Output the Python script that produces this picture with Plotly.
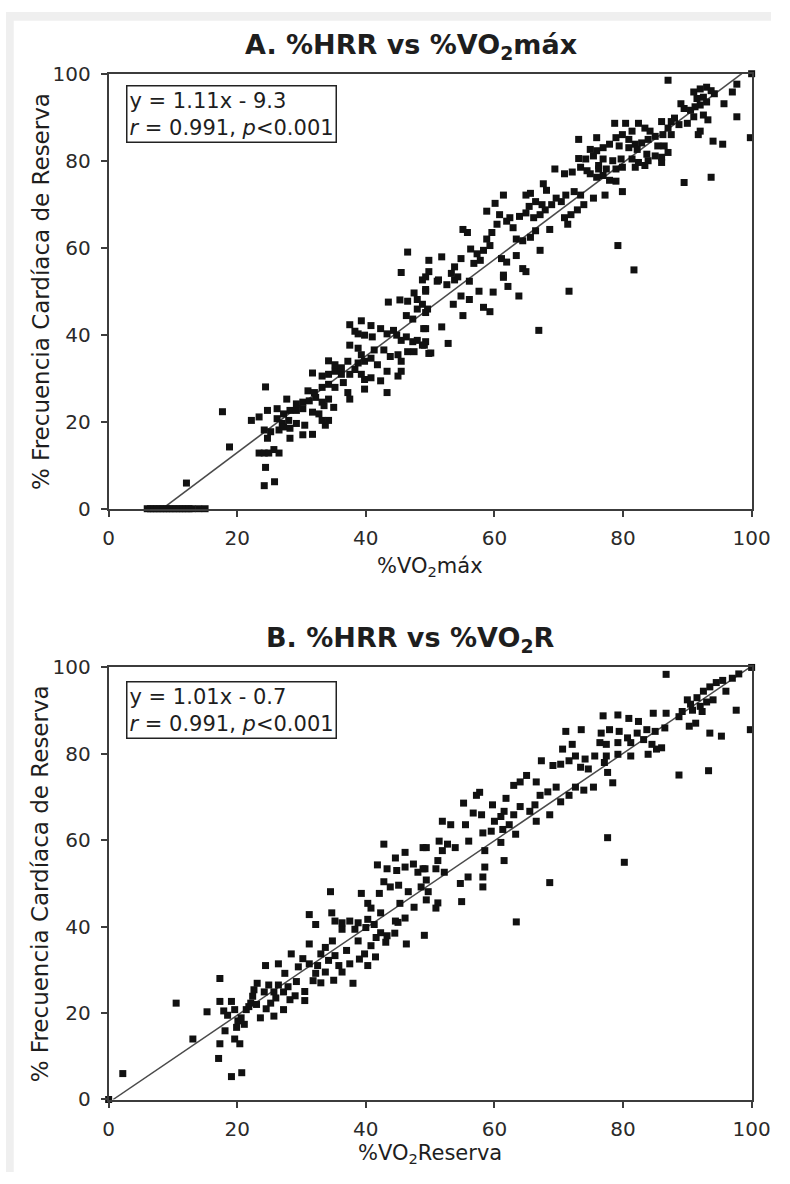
import plotly.graph_objects as go

# ---------------- Panel A: %HRR vs %VO2máx ----------------
a_x = [
    6.0, 6.5, 7.0, 7.5, 8.0, 8.5, 9.0, 9.5, 10.0, 10.5, 11.0, 11.5, 12.0, 12.5, 13.0, 14.0, 15.0,
    12.1, 17.7, 18.8,
    24.2, 25.8, 24.4, 23.4, 24.2, 24.9, 25.7, 26.5,
    24.2, 25.2, 24.7, 26.5, 28.2, 30.2, 31.7, 33.7,
    22.2, 23.4, 26.2, 27.0, 28.0, 29.2, 30.5, 27.2, 28.2,
    24.4, 24.7, 26.2, 27.2, 28.2, 29.2, 30.2, 31.7, 32.7, 33.2, 34.2,
    27.7, 29.2, 30.2, 31.2, 32.2, 33.2, 34.2, 35.0, 33.5,
    31.0, 32.0, 33.2, 34.2, 35.2, 36.5, 37.2, 37.5, 39.8, 43.3,
    31.7, 33.2, 34.2, 35.2, 36.2, 37.5, 38.3, 39.3, 39.8, 40.8, 42.3, 43.3, 45.0, 45.5,
    34.2, 35.2, 36.2, 37.2, 38.8, 39.8, 40.8, 41.8,
    37.5, 38.8, 39.3, 41.3, 42.8, 43.8, 45.0, 45.5, 46.5, 47.5, 48.8, 49.8,
    45.5, 46.3, 47.3, 48.0, 49.0, 49.3,
    42.3, 43.3, 44.3, 44.8,
    37.5, 39.3, 40.8, 38.8, 38.3, 39.8, 41.0,
    46.3, 47.3, 48.0, 48.8, 49.3,
    43.5, 45.3, 46.5,
    48.8, 49.3, 47.5, 48.0,
    46.5, 45.5,
    71.6, 66.9, 63.8, 62.1, 61.4, 59.8, 57.6, 58.3, 59.3, 56.1, 54.8, 55.1, 53.6, 51.8, 52.8,
    50.1, 49.1, 49.3, 49.6, 51.1, 52.6, 53.8, 56.1, 49.3,
    69.4, 70.9, 72.1, 73.4, 67.6, 68.1, 69.6, 71.1, 72.4, 73.4, 73.9, 72.9, 71.9, 70.9, 71.4,
    70.4, 68.9, 67.4, 66.4, 65.4, 64.9, 65.6, 61.4, 60.1, 58.8, 60.8, 61.9, 60.4, 62.4, 63.9,
    64.9, 66.1, 67.1, 67.9, 66.4, 65.6, 64.4, 63.4, 62.9, 59.6, 58.8, 55.1, 55.8, 59.3, 58.3,
    57.3, 56.3, 57.8, 56.8, 54.8, 53.8, 54.3, 53.3, 51.8, 49.8, 49.8, 51.3, 49.3, 61.1, 61.9,
    63.4, 61.4, 64.4, 64.9, 67.1, 68.6,
    78.7, 80.4, 82.4, 83.4, 84.2, 81.4, 79.9, 78.9, 80.9, 81.9, 82.9, 83.9, 85.4, 86.4, 87.0,
    86.0, 85.0, 83.7, 82.2, 80.9, 79.4, 77.9, 76.9, 75.9, 74.9, 75.4, 76.9, 78.4, 79.7, 81.4,
    82.4, 83.9, 86.0, 83.4, 81.9, 75.9, 73.1, 73.1, 74.2, 76.2, 77.4, 78.9, 79.9, 76.9, 75.9,
    74.9, 77.9, 78.9, 79.9, 77.2, 75.4, 76.2, 74.4,
    91.0, 92.0, 93.0, 93.7, 94.2, 92.5, 91.5, 93.0, 92.0, 91.2, 90.5, 89.0, 89.5, 91.0, 92.5,
    93.2, 92.0, 91.7, 90.0, 88.0, 87.5, 88.7, 86.0, 87.0, 85.0, 86.2, 87.5,
    87.0, 100.0, 97.7, 97.0, 95.7, 97.7, 99.8, 94.0, 95.5, 93.7, 89.5, 79.2, 81.7,
]
a_y = [
    0, 0, 0, 0, 0, 0, 0, 0, 0, 0, 0, 0, 0, 0, 0, 0, 0,
    5.9, 22.3, 14.2,
    5.3, 6.2, 9.5, 12.8, 12.8, 12.8, 13.6, 12.8,
    18.1, 17.7, 16.2, 18.1, 16.2, 17.0, 17.1, 19.2,
    20.3, 21.1, 20.7, 19.6, 20.3, 19.6, 19.2, 18.8, 18.5,
    28.0, 22.6, 23.0, 21.8, 22.6, 22.6, 23.0, 22.2, 21.8, 20.3, 20.3,
    25.2, 24.1, 24.5, 24.8, 25.6, 24.5, 25.2, 23.3, 23.7,
    27.1, 26.7, 27.9, 28.6, 27.9, 29.0, 26.7, 25.2, 27.5, 26.7,
    31.2, 30.5, 30.9, 31.6, 30.9, 30.9, 32.0, 30.9, 29.7, 30.1, 29.4, 31.6, 30.5, 31.6,
    34.0, 33.1, 32.4, 33.9, 33.5, 33.9, 34.6, 33.1,
    37.6, 36.9, 35.4, 36.5, 36.5, 35.0, 35.4, 33.9, 36.1, 36.1, 37.6, 35.7,
    38.7, 39.5, 38.4, 38.7, 41.4, 38.4,
    41.4, 40.2, 41.0, 39.9,
    42.3, 43.2, 42.1, 40.2, 40.8, 39.9, 39.5,
    44.4, 43.6, 45.9, 47.0, 45.1,
    47.5, 48.0, 47.7,
    52.6, 50.4, 49.6, 48.1,
    59.0, 54.3,
    50.0, 41.0, 48.9, 51.1, 53.2, 49.8, 50.0, 46.3, 45.3, 48.1, 48.9, 44.4, 47.0, 41.8, 38.0,
    35.8, 37.6, 41.4, 45.9, 52.3, 51.5, 52.6, 52.3, 50.0,
    78.1, 77.0, 77.4, 78.5, 74.7, 73.2, 71.4, 72.1, 72.9, 72.1, 69.9, 68.7, 67.6, 66.9, 65.4,
    70.6, 69.9, 69.9, 70.6, 69.5, 72.1, 72.5, 72.1, 70.2, 68.4, 67.6, 66.1, 65.4, 66.9, 67.2,
    68.0, 66.9, 67.6, 68.7, 63.9, 62.4, 61.6, 62.0, 64.6, 63.5, 62.0, 64.2, 63.5, 60.5, 59.4,
    58.6, 59.7, 57.1, 56.4, 57.5, 55.6, 53.3, 54.1, 57.9, 57.1, 54.5, 52.6, 53.3, 57.5, 56.7,
    58.2, 53.7, 55.2, 54.5, 59.4, 64.2,
    88.6, 88.6, 88.6, 87.5, 86.8, 86.8, 86.0, 85.3, 84.9, 83.8, 84.1, 84.9, 83.4, 83.4, 81.9,
    80.8, 81.1, 81.5, 82.6, 83.0, 83.4, 83.8, 83.0, 82.3, 82.6, 81.1, 80.4, 80.0, 80.4, 80.4,
    79.6, 80.0, 79.6, 78.9, 78.5, 85.3, 84.9, 80.5, 80.4, 78.9, 78.1, 78.1, 78.5, 76.6, 76.2,
    77.0, 75.5, 75.3, 72.9, 72.1, 71.4, 78.1, 77.7,
    95.8, 96.5, 96.9, 96.1, 95.4, 94.6, 94.3, 93.5, 92.8, 92.4, 91.6, 93.1, 92.0, 90.1, 90.5,
    89.4, 86.8, 86.0, 88.6, 89.8, 89.0, 88.3, 89.0, 87.5, 85.6, 86.0, 86.0,
    98.5, 100.0, 97.6, 95.8, 93.1, 90.1, 85.3, 84.5, 83.8, 76.2, 75.0, 60.5, 54.9,
]

# ---------------- Panel B: %HRR vs %VO2R ----------------
b_x = [
    2.2, 0.0, 10.5, 13.1, 15.3, 17.3, 17.3, 17.3, 17.1, 19.1, 20.7, 17.9, 18.1, 19.1, 19.6,
    20.1, 19.6, 20.4, 19.9, 21.1, 20.6, 21.4, 22.1, 22.4, 22.6, 23.1, 23.6, 24.4, 25.2, 24.2,
    24.9, 25.7, 26.4, 25.7, 26.4, 27.2, 27.2, 27.9, 27.4, 28.2, 28.4, 29.2, 29.5, 30.2, 30.5,
    30.5, 31.2, 31.2, 32.2, 32.5, 33.0, 33.7, 33.7, 34.2, 34.8, 35.0, 35.2, 36.3, 36.3, 37.5,
    38.0, 38.3, 38.8, 39.8, 40.0, 40.3, 40.8, 41.6, 42.3, 43.1, 43.3, 46.3, 49.1,
    18.5, 21.8, 23.0, 24.5, 26.0, 29.0, 31.8, 33.0, 35.8, 37.0, 39.0, 41.5, 44.5, 45.0, 47.5,
    42.8, 46.1, 48.9, 44.6, 41.8, 43.3, 44.8, 46.1, 47.4, 48.9, 48.1, 42.8, 43.8, 45.1, 46.6,
    48.6, 34.5, 39.3, 42.1, 40.3, 40.8, 45.3, 46.1, 44.6, 42.3, 31.2, 32.2, 34.7, 35.2, 36.3,
    37.5, 38.8, 40.3, 41.3, 49.4, 49.4,
    97.6, 99.8, 93.5, 95.3, 93.3, 88.7, 80.2, 77.6, 68.6, 63.4,
    76.9, 79.2, 80.9, 82.4, 84.7, 86.7, 88.7, 89.2, 90.8, 92.3, 91.3, 90.3, 86.5, 85.0, 83.7,
    82.2, 80.7, 79.4, 77.9, 76.6, 71.1, 73.5,
    76.4, 77.4, 79.2, 81.2, 83.2, 84.5, 86.0, 85.2, 83.9, 81.2, 79.2, 77.4, 75.6, 74.1, 72.6,
    72.1, 70.6,
    69.1, 70.3, 71.6, 67.3, 73.4, 74.6, 77.1, 77.6, 78.4, 75.4, 73.9, 72.6, 71.6, 70.3, 69.6,
    68.3, 67.1, 66.5, 65.0, 64.0, 63.0,
    66.3, 65.5, 64.0, 63.0, 61.8, 61.5, 59.7, 57.7, 57.2, 55.2, 56.7, 58.0, 61.0, 60.0, 68.6,
    66.5, 62.3, 59.5, 58.2, 61.3, 63.3, 61.0, 58.5, 61.5, 58.5, 58.2, 58.2, 55.9, 54.7, 54.9,
    51.9, 53.2, 55.5, 51.4, 52.7, 56.0, 53.9, 51.9, 51.2, 49.4, 49.2, 50.9, 52.2, 49.7, 51.2,
    50.9,
    86.7, 100.0, 90.5, 91.5, 92.5, 93.5, 94.5, 95.5, 97.0, 98.0, 92.0, 94.0, 96.0, 90.0, 93.0,
]
b_y = [
    6.0, 0.0, 22.3, 14.0, 20.3, 28.0, 22.7, 12.9, 9.5, 5.3, 6.2, 20.5, 15.9, 22.7, 20.8,
    18.2, 14.0, 12.9, 16.7, 17.4, 18.9, 20.8, 22.3, 23.9, 25.4, 26.9, 18.9, 31.0, 22.3, 24.9,
    26.5, 19.3, 31.4, 24.9, 26.5, 24.9, 20.8, 26.1, 29.2, 23.1, 33.7, 27.3, 30.7, 32.6, 25.0,
    22.9, 36.0, 31.4, 29.2, 31.0, 33.7, 29.5, 35.2, 32.2, 36.7, 27.6, 33.3, 29.5, 39.4, 31.4,
    26.9, 39.4, 36.7, 33.7, 39.8, 31.0, 35.6, 37.5, 38.6, 36.4, 37.9, 36.0, 38.0,
    19.5, 21.5, 22.0, 21.0, 23.5, 24.0, 27.5, 27.0, 31.0, 34.5, 32.5, 33.0, 38.5, 41.0, 44.5,
    59.1, 57.2, 58.3, 55.9, 54.3, 53.4, 53.0, 53.8, 54.5, 53.4, 52.6, 50.4, 49.2, 49.6, 48.1,
    49.2, 48.1, 47.7, 47.7, 45.4, 44.3, 45.4, 42.0, 41.3, 43.2, 42.8, 40.5, 43.2, 41.3, 40.9,
    41.3, 40.9, 41.7, 40.5, 50.8, 46.2,
    90.1, 85.6, 84.8, 84.1, 76.1, 75.1, 54.9, 60.6, 50.2, 41.1,
    88.8, 89.0, 88.2, 87.5, 89.4, 89.4, 88.6, 89.8, 90.1, 89.8, 87.1, 86.4, 86.0, 85.2, 85.6,
    84.8, 83.7, 85.2, 85.6, 84.8, 85.2, 85.6,
    82.6, 82.2, 82.6, 82.6, 83.3, 82.2, 81.4, 81.1, 79.9, 79.5, 79.9, 79.5, 79.5, 78.8, 79.5,
    82.2, 81.1,
    77.3, 77.6, 78.4, 78.4, 76.9, 76.5, 78.0, 75.7, 73.3, 72.3, 71.6, 72.3, 70.4, 68.9, 72.3,
    71.2, 70.4, 73.5, 75.0, 73.5, 72.7,
    68.2, 66.7, 67.8, 65.9, 69.7, 66.7, 68.2, 71.1, 70.4, 68.6, 66.3, 65.9, 65.5, 64.4, 65.9,
    64.4, 63.6, 62.1, 61.7, 62.5, 61.4, 59.5, 57.6, 55.3, 53.8, 51.5, 49.2, 51.5, 50.0, 45.8,
    64.4, 63.6, 63.6, 59.8, 59.1, 59.8, 58.3, 57.6, 55.3, 58.3, 53.4, 53.4, 52.6, 48.1, 45.5,
    44.3,
    98.4, 100.0, 91.5, 93.0, 94.5, 95.5, 96.5, 97.0, 97.5, 98.5, 91.0, 92.5, 94.5, 92.5, 92.0,
]

# Regression fits (slope, intercept) printed in each panel
fit_a = (1.11, -9.3)
fit_b = (1.01, -0.7)
stats_text = "<i>r</i> = 0.991, <i>p</i>&lt;0.001"

tick_vals = [0, 20, 40, 60, 80, 100]
tick_text = ["0", "20", "40", "60", "80", "100"]

FONT = "DejaVu Sans"
W, H = 790, 1184


def fit_segment(slope, intercept, lo=0.0, hi=100.0):
    """Part of y = slope*x + intercept that lies inside the [lo, hi] square."""
    x0 = max(lo, (lo - intercept) / slope)
    x1 = min(hi, (hi - intercept) / slope)
    return [x0, x1], [slope * x0 + intercept, slope * x1 + intercept]


fig = go.Figure()

marker = dict(symbol="square", size=7, color="#111111", line=dict(width=0))
line_style = dict(color="#4a4a4a", width=1.5)

for (xs, ys, fit, xa, ya) in [
    (a_x, a_y, fit_a, "x", "y"),
    (b_x, b_y, fit_b, "x2", "y2"),
]:
    lx, ly = fit_segment(*fit)
    fig.add_trace(go.Scatter(x=lx, y=ly, mode="lines", line=line_style,
                             xaxis=xa, yaxis=ya, hoverinfo="skip", showlegend=False))
    fig.add_trace(go.Scatter(x=xs, y=ys, mode="markers", marker=marker,
                             xaxis=xa, yaxis=ya, cliponaxis=False, showlegend=False))


def px_x(p):
    return p / W


def px_y(p):
    return 1 - p / H


x_dom = [px_x(106), px_x(770)]
axis_common = dict(
    range=[0, 100], tickvals=tick_vals, ticktext=tick_text,
    showline=True, mirror=True, linecolor="#3c3c3c", linewidth=2,
    ticks="outside", ticklen=6, tickwidth=1.5, tickcolor="#3c3c3c",
    showgrid=False, zeroline=False, fixedrange=True,
    ticklabeloverflow="allow",
    tickfont=dict(family=FONT, size=20, color="#2a2a2a"),
)

fig.update_layout(
    width=W, height=H, autosize=False,
    margin=dict(l=0, r=0, t=0, b=0),
    paper_bgcolor="white", plot_bgcolor="white",
    xaxis=dict(domain=x_dom, anchor="y", ticklabelstandoff=4, **axis_common),
    yaxis=dict(domain=[px_y(507), px_y(63)], anchor="x", ticklabelstandoff=6, **axis_common),
    xaxis2=dict(domain=x_dom, anchor="y2", ticklabelstandoff=4, **axis_common),
    yaxis2=dict(domain=[px_y(1110), px_y(669)], anchor="x2", ticklabelstandoff=6, **axis_common),
    shapes=[
        dict(type="rect", xref="paper", yref="paper", x0=0, x1=px_x(8), y0=0, y1=1,
             fillcolor="#efefef", line=dict(width=0), layer="below"),
        dict(type="rect", xref="paper", yref="paper", x0=0, x1=1, y0=px_y(9), y1=1,
             fillcolor="#efefef", line=dict(width=0), layer="below"),
    ],
)

ann = []
text_color = "#1e1e1e"

# Panel titles
ann.append(dict(text="<b>A. %HRR vs %VO<sub>2</sub>máx</b>", x=px_x(418), y=px_y(35),
                font=dict(family=FONT, size=27, color=text_color)))
ann.append(dict(text="<b>B. %HRR vs %VO<sub>2</sub>R</b>", x=px_x(418), y=px_y(640),
                font=dict(family=FONT, size=27, color=text_color)))

# Axis titles
for xt, ypos in [("%VO<sub>2</sub>máx", 566), ("%VO<sub>2</sub>Reserva", 1166)]:
    ann.append(dict(text=xt, x=px_x(438), y=px_y(ypos),
                    font=dict(family=FONT, size=21, color=text_color)))
for ycen in [(63 + 507) / 2, (669 + 1110) / 2]:
    ann.append(dict(text="% Frecuencia Cardíaca de Reserva", textangle=-90,
                    x=px_x(36), y=px_y(ycen),
                    font=dict(family=FONT, size=23, color=text_color)))

# Regression boxes
for eq, top in [(f"y = {fit_a[0]:.2f}x - {abs(fit_a[1]):.1f}", 75),
                (f"y = {fit_b[0]:.2f}x - {abs(fit_b[1]):.1f}", 683)]:
    ann.append(dict(text=eq + "<br>" + stats_text, x=px_x(124), y=px_y(top),
                    xanchor="left", yanchor="top", align="left",
                    bordercolor="#222222", borderwidth=1.5, borderpad=2,
                    bgcolor="white",
                    font=dict(family=FONT, size=21, color=text_color)))

for a in ann:
    a.setdefault("xref", "paper")
    a.setdefault("yref", "paper")
    a.setdefault("showarrow", False)
    a.setdefault("xanchor", "center")
    a.setdefault("yanchor", "middle")

fig.update_layout(annotations=ann)
fig.write_html("out.html")
